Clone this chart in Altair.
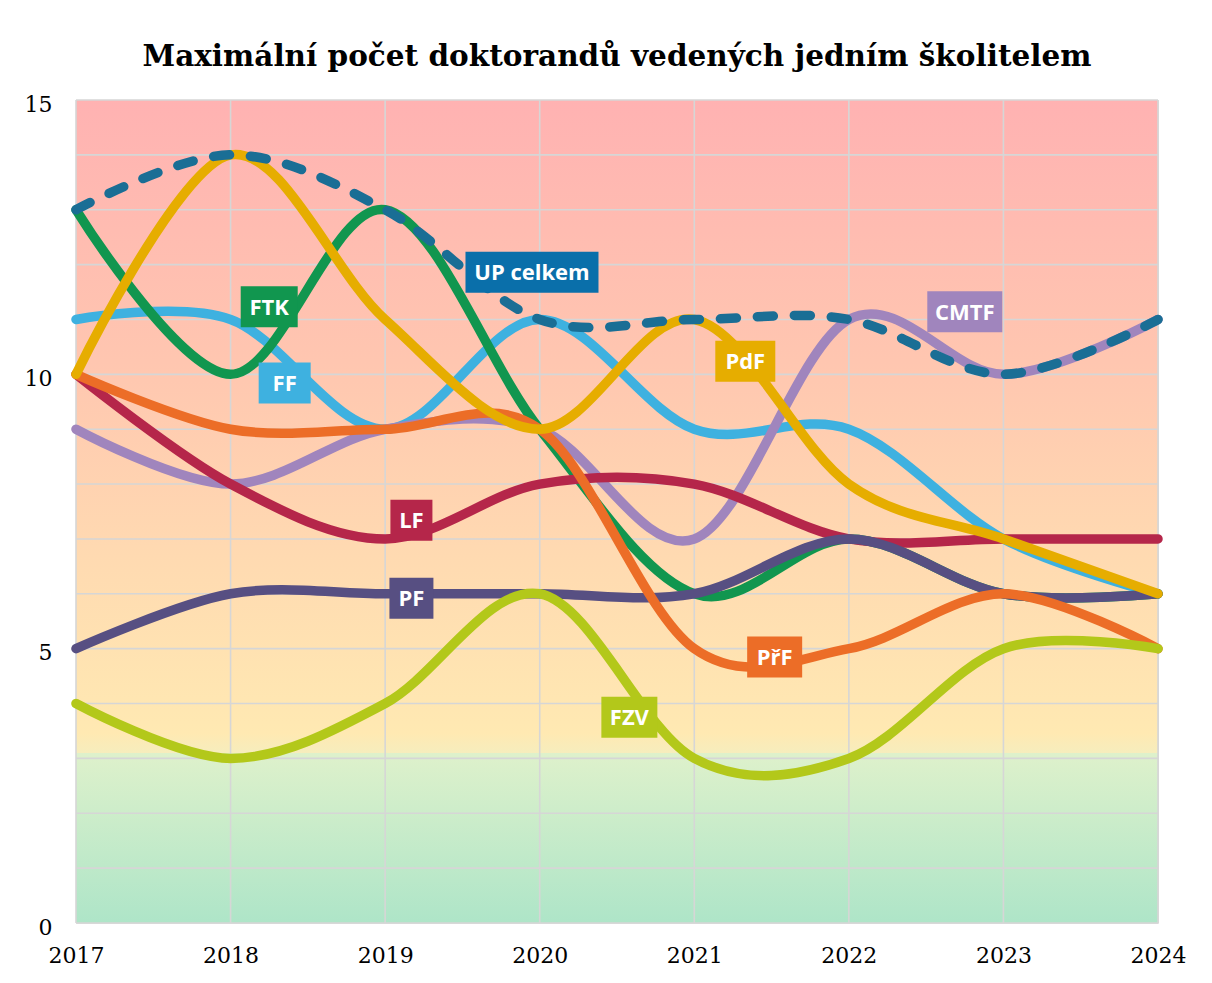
import altair as alt
import pandas as pd

# ---------------- data ----------------
years = [2017, 2018, 2019, 2020, 2021, 2022, 2023, 2024]

series_names = ["FF", "FTK", "CMTF", "LF", "PF", "PřF", "PdF", "FZV", "UP celkem"]

ff = [11, 11, 9, 11, 9, 9, 7, 6]
ftk = [13, 10, 13, 9, 6, 7, 6, 6]
cmtf = [9, 8, 9, 9, 7, 11, 10, 11]
lf = [10, 8, 7, 8, 8, 7, 7, 7]
pf = [5, 6, 6, 6, 6, 7, 6, 6]
prf = [10, 9, 9, 9, 5, 5, 6, 5]
pdf_ = [10, 14, 11, 9, 11, 8, 7, 6]
fzv = [4, 3, 4, 6, 3, 3, 5, 5]
up = [13, 14, 13, 11, 11, 11, 10, 11]

series_values = [ff, ftk, cmtf, lf, pf, prf, pdf_, fzv, up]

# annotation anchors (data units) for the coloured name boxes
label_names = ["FTK", "FF", "LF", "PF", "UP celkem", "PdF", "CMTF", "PřF", "FZV"]
label_x = [2018.25, 2018.35, 2019.17, 2019.17, 2019.95, 2021.33, 2022.75, 2021.52, 2020.58]
label_y = [11.23, 9.84, 7.34, 5.92, 11.86, 10.24, 11.14, 4.85, 3.75]

y_ticks = list(range(0, 16))
y_labels = [0, 5, 10, 15]

# ---------------- styles ----------------
line_colors = {
    "FF": "#3EB1E0",
    "FTK": "#11964F",
    "CMTF": "#A085BD",
    "LF": "#B5264A",
    "PF": "#574F82",
    "PřF": "#EC6D27",
    "PdF": "#E6AD00",
    "FZV": "#B3C81A",
    "UP celkem": "#1A6E95",
}
box_colors = dict(line_colors)
box_colors["UP celkem"] = "#0A6FAA"
box_widths = {"FTK": 57, "FF": 52, "LF": 42, "PF": 44, "UP celkem": 133,
              "PdF": 60, "CMTF": 75, "PřF": 55, "FZV": 56}

W, H = 1082, 823
xs = alt.Scale(domain=[2017, 2024], nice=False, zero=False)
ys = alt.Scale(domain=[0, 15], nice=False)

x_axis = alt.Axis(values=years, format="d", grid=False, domain=False,
                  ticks=False, labelPadding=22, labelFont="DejaVu Serif",
                  labelFontSize=22, labelColor="#000000", title=None,
                  labelFlush=False, labelOverlap=False)
y_axis = alt.Axis(values=y_labels, grid=False, domain=False, ticks=False,
                  labelPadding=24, labelFont="DejaVu Serif",
                  labelFontSize=22, labelColor="#000000", title=None,
                  labelFlush=False, labelOverlap=False, labelBaseline="middle",
                  labelOffset=4)


def X(field):
    return alt.X(field, scale=xs, axis=x_axis, title=None)


def Y(field):
    return alt.Y(field, scale=ys, axis=y_axis, title=None)


# ---------------- background ----------------
bg_df = pd.DataFrame({"x0": [2017, 2017], "x1": [2024, 2024],
                      "y0": [3.1, 0], "y1": [15, 3.1], "band": ["warm", "green"]})

warm = alt.Chart(bg_df[bg_df.band == "warm"]).mark_rect(
    color=alt.Gradient(
        gradient="linear", x1=0, x2=0, y1=0, y2=1,
        stops=[
            alt.GradientStop(color="#FFB2B2", offset=0),
            alt.GradientStop(color="#FFC6B0", offset=0.4),
            alt.GradientStop(color="#FFDAB1", offset=0.7),
            alt.GradientStop(color="#FFE9B2", offset=0.97),
            alt.GradientStop(color="#F6EDBD", offset=1),
        ],
    )
).encode(x=X("x0:Q"), x2="x1:Q", y=Y("y0:Q"), y2="y1:Q")

green = alt.Chart(bg_df[bg_df.band == "green"]).mark_rect(
    color=alt.Gradient(
        gradient="linear", x1=0, x2=0, y1=0, y2=1,
        stops=[
            alt.GradientStop(color="#DEF1CB", offset=0),
            alt.GradientStop(color="#AEE5C8", offset=1),
        ],
    )
).encode(x=X("x0:Q"), x2="x1:Q", y=Y("y0:Q"), y2="y1:Q")

# ---------------- grid ----------------
hgrid = alt.Chart(pd.DataFrame({"v": y_ticks})).mark_rule(
    color="#D6D6D6", strokeWidth=1.6
).encode(y=Y("v:Q"))

vgrid = alt.Chart(pd.DataFrame({"yr": years})).mark_rule(
    color="#D6D6D6", strokeWidth=1.6
).encode(x=X("yr:Q"))

layers = [warm, green, hgrid, vgrid]

# ---------------- lines ----------------
for name, vals in zip(series_names, series_values):
    df = pd.DataFrame({"year": years, "value": vals})
    if name == "UP celkem":
        mk = alt.Chart(df).mark_line(
            interpolate="cardinal", color=line_colors[name], strokeWidth=9.5,
            strokeDash=[16, 21], strokeCap="round")
    else:
        mk = alt.Chart(df).mark_line(
            interpolate="cardinal", color=line_colors[name], strokeWidth=9.5,
            strokeCap="round")
    layers.append(mk.encode(x=X("year:Q"), y=Y("value:Q")))

# ---------------- name boxes ----------------
for name, lx, ly in zip(label_names, label_x, label_y):
    ldf = pd.DataFrame({"x": [lx], "y": [ly], "t": [name]})
    box = alt.Chart(ldf).mark_rect(
        width=box_widths[name], height=41, color=box_colors[name]
    ).encode(x=X("x:Q"), y=Y("y:Q"))
    txt = alt.Chart(ldf).mark_text(
        font="Open Sans", fontWeight="bold", fontSize=22, color="white",
        align="center", baseline="middle", dy=1
    ).encode(x=X("x:Q"), y=Y("y:Q"), text="t:N")
    layers += [box, txt]

chart = alt.layer(*layers).properties(
    width=W, height=H,
    title=alt.Title("Maximální počet doktorandů vedených jedním školitelem",
                    font="DejaVu Serif", fontSize=29.5, fontWeight="bold",
                    color="#000000", anchor="middle", offset=21),
    autosize=alt.AutoSizeParams(type="none"),
    padding={"left": 68, "top": 92, "right": 40, "bottom": 52},
).configure_view(stroke="#808080", strokeWidth=2.5).configure(background="white")

chart.save("out.html", embed_options={"renderer": "svg", "actions": False})
